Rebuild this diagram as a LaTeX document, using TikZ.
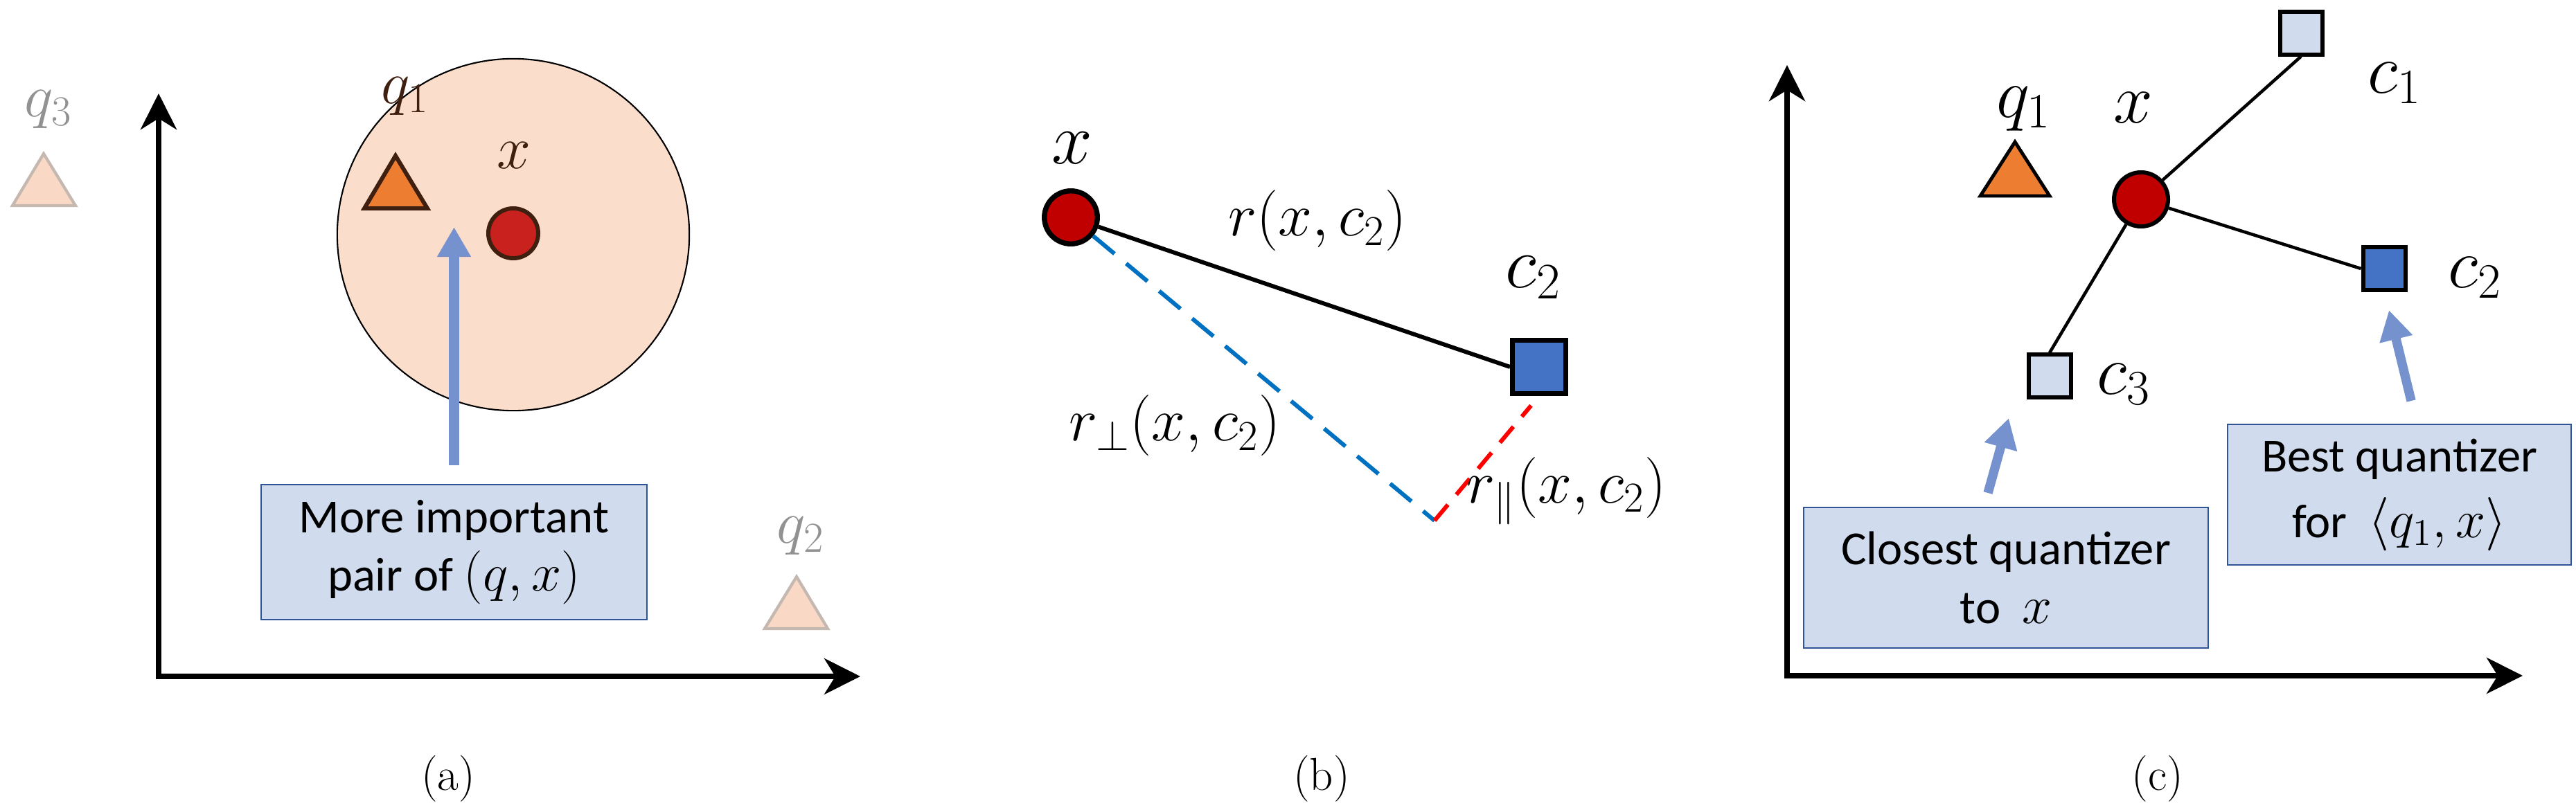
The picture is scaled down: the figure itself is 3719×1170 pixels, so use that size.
\RequirePackage{fix-cm}
\documentclass[tikz,border=0pt]{standalone}
\usepackage{fontspec}
\newfontfamily\calibri{Carlito}
\usetikzlibrary{arrows.meta}
\definecolor{peach}{HTML}{FADDCB}
\definecolor{orangeq}{HTML}{ED7D31}
\definecolor{brownq}{HTML}{3F1F0F}
\definecolor{reda}{HTML}{C9211E}
\definecolor{darkred}{HTML}{C00000}
\definecolor{bluesq}{HTML}{4472C4}
\definecolor{lightsq}{HTML}{D0DCEE}
\definecolor{boxborder}{HTML}{2F5597}
\definecolor{arrowblue}{HTML}{7692CE}
\definecolor{dashblue}{HTML}{0070C0}
\definecolor{fadetri}{HTML}{F9D9C5}
\definecolor{fadeedge}{HTML}{C4B8B0}
\definecolor{fadelabel}{HTML}{929292}
\newcommand{\boxmath}[1]{{\fontsize{22}{22}\selectfont$#1$}}
\begin{document}
\begin{tikzpicture}[x=0.01cm,y=-0.01cm,
  axis/.style={line width=2.1pt, line join=miter,
    {Stealth[length=0.52cm,width=0.52cm,inset=0.16cm]}-{Stealth[length=0.52cm,width=0.52cm,inset=0.16cm]}},
  dot/.style={circle, inner sep=0pt, line width=2.1pt, draw=black, fill=darkred, minimum size=0.765cm},
  sq/.style={rectangle, inner sep=0pt, line width=1.7pt, draw=black, minimum size=0.61cm},
  infobox/.style={rectangle, draw=boxborder, fill=lightsq, line width=0.6pt, align=center, inner sep=0pt,
    font=\calibri\fontsize{19.5}{24}\selectfont},
  blockarrow/.style={draw=arrowblue, line width=4.2pt, -{Triangle[length=0.43cm,width=0.46cm]}},
  mlabA/.style={inner sep=0pt, font=\fontsize{25}{30}\selectfont},
  mlabB/.style={inner sep=0pt, font=\fontsize{30}{36}\selectfont},
  mlabC/.style={inner sep=0pt, font=\fontsize{29}{35}\selectfont},
  caption/.style={inner sep=0pt, font=\fontsize{19}{23}\selectfont},
  link/.style={draw=black, line width=1.3pt}
]
\useasboundingbox (0,0) rectangle (3719,1170);

% ---------------- Panel (a) ----------------
\coordinate (ya) at (229,135);
\coordinate (oa) at (229,977);
\coordinate (xa) at (1242,977);
\draw[axis] (ya) -- (oa) -- (xa);

\node[circle, draw=black, fill=peach, line width=0.6pt, minimum size=5.08cm, inner sep=0pt] (regiona) at (741,339) {};

% q3 and q2 (faded)
\draw[fill=fadetri, draw=fadeedge, line width=1.2pt] (63,222) -- (18,297) -- (109,297) -- cycle;
\node[mlabA, text=fadelabel] (q3a) at (70,158) {$q_3$};
\draw[fill=fadetri, draw=fadeedge, line width=1.2pt] (1150,833) -- (1104,908) -- (1195,908) -- cycle;
\node[mlabA, text=fadelabel] (q2a) at (1156,774) {$q_2$};

% q1 triangle
\draw[fill=orangeq, draw=brownq, line width=1.7pt, line join=miter] (571,225) -- (526,301) -- (617,301) -- cycle;
\node[mlabA, text=brownq] (q1la) at (585,139) {$q_1$};

% x point
\node[dot, fill=reda, draw=brownq, line width=1.7pt, minimum size=0.72cm] (xpa) at (741,337) {};
\node[mlabA, text=brownq] (xla) at (742,225) {$x$};

% info box + arrow
\node[infobox, minimum width=5.57cm, minimum height=1.95cm] (boxa) at (655.5,797.5)
  {More important\\ pair of \boxmath{(q,x)}};
\coordinate (tipa) at (655.5,328);
\draw[blockarrow, shorten <=0.27cm] (boxa.north) -- (tipa);

\node[caption] (capa) at (647,1125) {(a)};

% ---------------- Panel (b) ----------------
\node[dot] (xb) at (1546,314) {};
\node[mlabB] (xlb) at (1548,214) {$x$};
\node[sq, fill=bluesq, line width=2.1pt, minimum size=0.765cm] (c2b) at (2222,530) {};
\node[mlabB] (c2lb) at (2214,401) {$c_2$};
\coordinate (cb) at (2071,752);
\draw[black, line width=1.7pt] (xb) -- (c2b.west);
\draw[dashblue, line width=1.7pt, dash pattern=on 0.4cm off 0.22cm] (xb) -- (cb);
\draw[red, line width=1.7pt, dash pattern=on 0.3cm off 0.19cm, shorten >=0.18cm] (cb) -- (c2b.south);
\node[mlabA] (rb) at (1902,319) {$r(x,c_2)$};
\node[mlabA] (rperpb) at (1696,615) {$r_{\perp}(x,c_2)$};
\node[mlabA] (rparb) at (2262,709) {$r_{\parallel}(x,c_2)$};

\node[caption] (capb) at (1908,1125) {(b)};

% ---------------- Panel (c) ----------------
\coordinate (yc) at (2580,94);
\coordinate (oc) at (2580,976);
\coordinate (xc) at (3642,976);
\draw[axis] (yc) -- (oc) -- (xc);

\draw[fill=orangeq, draw=black, line width=1.4pt, line join=miter] (2909,205) -- (2859,283) -- (2959,283) -- cycle;
\node[mlabC] (q1lc) at (2922,157) {$q_1$};
\node[mlabC] (xlc) at (3080,156) {$x$};

\node[sq, fill=lightsq] (c1c) at (3322,48) {};
\node[sq, fill=bluesq] (c2c) at (3442,388) {};
\node[sq, fill=lightsq] (c3c) at (2959,543) {};
\node[dot, line width=1.7pt, minimum size=0.78cm] (xpc) at (3091,288) {};
\draw[link] (xpc) -- (c1c.south);
\draw[link] (xpc) -- (c2c.west);
\draw[link] (xpc) -- (c3c.north);
\node[mlabC] (c1lc) at (3457,120) {$c_1$};
\node[mlabC] (c2lc) at (3573,401) {$c_2$};
\node[mlabC] (c3lc) at (3066,555) {$c_3$};

\node[infobox, minimum width=5.84cm, minimum height=2.03cm] (boxc1) at (2896,834.5)
  {Closest quantizer\\ to\ \ \boxmath{x}};
\node[infobox, minimum width=4.96cm, minimum height=2.03cm] (boxc2) at (3464,714.5)
  {Best quantizer\\[3pt] for\ \ \boxmath{\langle q_1,x\rangle}};

\coordinate (a1s) at (2870,712);
\coordinate (a1e) at (2900,604);
\coordinate (a2s) at (3481,579);
\coordinate (a2e) at (3449,448);
\draw[blockarrow, line width=3.8pt] (a1s) -- (a1e);
\draw[blockarrow, line width=3.8pt] (a2s) -- (a2e);

\node[caption] (capc) at (3115,1125) {(c)};
\end{tikzpicture}
\end{document}
